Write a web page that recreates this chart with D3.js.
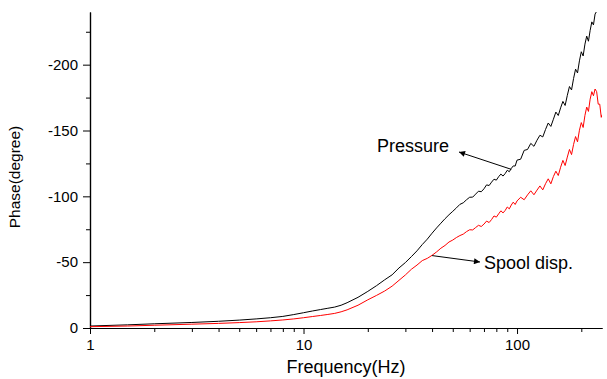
<!DOCTYPE html>
<html>
<head>
<meta charset="utf-8">
<script src="https://cdn.jsdelivr.net/npm/d3@7/dist/d3.min.js"></script>
<style>
  body { margin: 0; background: #fff; }
  svg text { font-family: "Liberation Sans", Arial, sans-serif; fill: #000; }
  .axis path, .axis line { stroke: #000; }
</style>
</head>
<body>
<div id="svgholder"></div>
<script>
// frequency points (Hz), shared by both traces
var freqHz = [1, 1.5, 2, 3, 4, 5, 6, 7, 8, 9, 10, 11, 12, 13, 14, 15, 16, 18, 20, 22, 24, 26, 28, 30, 32, 34, 36, 38, 40, 42, 44, 46, 48, 50, 52, 54, 56, 58, 60, 62, 64, 66, 68, 70, 72, 74, 76, 78, 80, 82, 84, 86, 88, 90, 92, 94, 96, 98, 100, 104, 108, 112, 116, 120, 124, 128, 132, 136, 140, 144, 148, 152, 156, 160, 164, 168, 172, 176, 180, 184, 188, 192, 196, 200, 204, 208, 212, 216, 220, 224, 228, 232, 236, 240, 244, 248, 250];

// phase of the pressure signal (degree)
var pressurePhase = [-1.5, -2.4, -3.2, -4.2, -5.1, -6.0, -6.9, -7.8, -8.8, -10.2, -11.6, -12.9, -14.0, -15.0, -15.9, -17.3, -19.2, -23.3, -27.8, -32.2, -36.6, -40.4, -45.6, -49.7, -54.2, -58.6, -63.4, -67.5, -72.0, -76.0, -79.6, -83.0, -86.0, -88.6, -91.2, -93.9, -95.1, -97.4, -99.3, -99.4, -101.7, -103.9, -103.5, -105.7, -108.7, -108.2, -110.8, -113.0, -112.3, -114.9, -116.9, -115.4, -117.3, -119.8, -118.7, -121.2, -123.1, -123.0, -127.5, -128.2, -134.9, -135.6, -140.2, -138.0, -142.6, -146.4, -145.1, -150.8, -155.7, -153.1, -158.5, -164.0, -161.4, -167.2, -172.1, -169.0, -176.7, -183.4, -180.8, -189.5, -196.6, -193.7, -202.9, -209.8, -206.6, -215.6, -221.7, -217.8, -226.0, -232.5, -230.2, -238.4, -240.5, -243, -246, -248, -250];

// phase of the spool displacement (degree)
var spoolPhase = [-1.0, -1.5, -2.1, -2.9, -3.5, -4.1, -4.7, -5.4, -6.1, -6.9, -7.8, -8.7, -9.5, -10.3, -11.1, -12.3, -13.8, -17.3, -21.4, -24.8, -28.1, -31.8, -36.2, -40.3, -44.6, -47.8, -51.2, -52.9, -55.2, -57.8, -60.6, -62.7, -65.3, -66.8, -68.7, -70.2, -71.3, -73.2, -74.6, -74.5, -76.3, -78.0, -77.1, -78.9, -81.2, -80.1, -82.4, -85.1, -84.2, -86.7, -89.0, -87.4, -89.3, -91.9, -90.5, -93.4, -95.6, -93.8, -96.5, -99.3, -97.4, -101.1, -104.2, -101.2, -104.7, -107.9, -104.9, -109.6, -113.3, -109.5, -115.0, -119.1, -115.8, -122.1, -127.3, -123.4, -129.8, -135.6, -131.7, -139.4, -145.4, -141.4, -150.2, -156.0, -152.3, -161.5, -167.8, -164.5, -173.8, -179.5, -176.4, -181.5, -179.5, -170.0, -170.0, -160.0, -162.0];

var yMajor = [0, -50, -100, -150, -200];
var yMinor = [-25, -75, -125, -175, -225];
var xMajor = [1, 10, 100];
var xMinor = [2, 3, 4, 5, 6, 7, 8, 9, 20, 30, 40, 50, 60, 70, 80, 90, 200];

g = {
  width: 607,
  height: 379,
  margin: { top: 12, right: 5, bottom: 51, left: 90 }
};

var svg = d3.select("#svgholder").append("svg")
  .attr("width", g.width)
  .attr("height", g.height);

var x = d3.scaleLog()
  .domain([1, 250])
  .range([g.margin.left, g.width - g.margin.right]);

var y = d3.scaleLinear()
  .domain([0, -240])
  .range([g.height - g.margin.bottom, g.margin.top]);

var defs = svg.append("defs");

defs.append("clipPath").attr("id", "plotclip")
  .append("rect")
  .attr("x", g.margin.left)
  .attr("y", g.margin.top)
  .attr("width", g.width - g.margin.right - g.margin.left)
  .attr("height", g.height - g.margin.bottom - g.margin.top);

// axes
var xAxisY = g.height - g.margin.bottom;

svg.append("g").attr("class", "axis")
  .attr("transform", "translate(0," + xAxisY + ")")
  .call(d3.axisBottom(x).tickValues(xMinor).tickSize(4).tickSizeOuter(0).tickFormat(""));

svg.append("g").attr("class", "axis")
  .attr("transform", "translate(0," + xAxisY + ")")
  .call(d3.axisBottom(x).tickValues(xMajor).tickSize(6).tickSizeOuter(0).tickFormat(function(d){ return String(d); }))
  .call(function(sel){
    sel.selectAll("text").attr("font-size", 15).attr("dy", "1em").attr("y", 7);
  });

svg.append("g").attr("class", "axis")
  .attr("transform", "translate(" + g.margin.left + ",0)")
  .call(d3.axisLeft(y).tickValues(yMinor).tickSize(4).tickSizeOuter(0).tickFormat(""));

svg.append("g").attr("class", "axis")
  .attr("transform", "translate(" + g.margin.left + ",0)")
  .call(d3.axisLeft(y).tickValues(yMajor).tickSize(7).tickSizeOuter(0).tickFormat(function(d){ return String(d); }))
  .call(function(sel){
    sel.selectAll("text").attr("font-size", 15).attr("x", -12);
  });

svg.selectAll(".axis path.domain").attr("stroke-width", 1.2);

// axis titles
svg.append("text")
  .attr("x", 346)
  .attr("y", 373)
  .attr("text-anchor", "middle")
  .attr("font-size", 18)
  .text("Frequency(Hz)");

svg.append("text")
  .attr("transform", "translate(20,177) rotate(-90)")
  .attr("text-anchor", "middle")
  .attr("font-size", 15.5)
  .text("Phase(degree)");

// traces
var pressureData = freqHz.map(function(f, i){ return { f: f, p: pressurePhase[i] }; });
var spoolData = freqHz.map(function(f, i){ return { f: f, p: spoolPhase[i] }; });

var line = d3.line()
  .x(function(d){ return x(d.f); })
  .y(function(d){ return y(d.p); });

var traces = svg.append("g").attr("clip-path", "url(#plotclip)");

traces.append("path")
  .datum(pressureData)
  .attr("fill", "none")
  .attr("stroke", "#000")
  .attr("stroke-width", 1)
  .attr("d", line);

traces.append("path")
  .datum(spoolData)
  .attr("fill", "none")
  .attr("stroke", "#ff0000")
  .attr("stroke-width", 1)
  .attr("d", line);

// annotations with arrows
defs.append("marker")
  .attr("id", "arrowhead")
  .attr("viewBox", "0 0 10 10")
  .attr("refX", 10)
  .attr("refY", 5)
  .attr("markerWidth", 10)
  .attr("markerHeight", 6)
  .attr("markerUnits", "userSpaceOnUse")
  .attr("orient", "auto")
  .append("path")
  .attr("d", "M0,0 L10,5 L0,10 Z")
  .attr("fill", "#000");

function annotate(label, tx, ty, fromF, fromP, toX, toY) {
  svg.append("line")
    .attr("x1", x(fromF)).attr("y1", y(fromP))
    .attr("x2", toX).attr("y2", toY)
    .attr("stroke", "#000")
    .attr("stroke-width", 1)
    .attr("marker-end", "url(#arrowhead)");
  svg.append("text")
    .attr("x", tx).attr("y", ty)
    .attr("font-size", 18)
    .text(label);
}

annotate("Pressure", 377, 152, 94, -120.5, 459, 152);
annotate("Spool disp.", 484, 269, 40, -55.0, 480, 262);
</script>
</body>
</html>
